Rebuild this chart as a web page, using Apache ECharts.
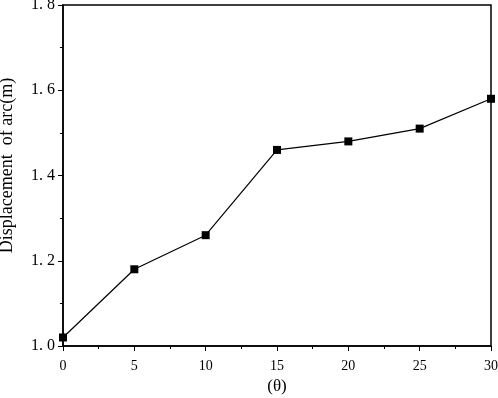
<!DOCTYPE html>
<html>
<head>
<meta charset="utf-8">
<script src="https://cdn.jsdelivr.net/npm/echarts@6/dist/echarts.min.js"></script>
<style>
  html, body { margin: 0; padding: 0; background: #fff; }
  #chart { width: 498px; height: 398px; }
</style>
</head>
<body>
<div id="chart"></div>
<script>
// 数据
const angles = [0, 5, 10, 15, 20, 25, 30]
const displacement = [1.02, 1.18, 1.26, 1.46, 1.48, 1.51, 1.58]

const myChart = echarts.init(document.getElementById('chart'))
const font = 'Liberation Serif, DejaVu Serif, serif'

const option = {
  backgroundColor: '#fff',
  animation: false,
  grid: {
    left: 63,
    right: 7,
    top: 5,
    bottom: 52,
    outerBoundsMode: 'none',
    containLabel: false,
    show: true,
    borderColor: '#000',
    borderWidth: 1.5,
  },
  xAxis: {
    type: 'value',
    min: 0,
    max: 30,
    interval: 5,
    name: '(θ)',
    nameLocation: 'middle',
    nameGap: 29,
    nameTextStyle: { fontFamily: font, fontSize: 17, color: '#000' },
    axisLine: { lineStyle: { color: '#000', width: 1.5 } },
    axisTick: { inside: false, length: 5, lineStyle: { color: '#000' } },
    minorTick: { show: true, splitNumber: 2, length: 3, lineStyle: { color: '#000' } },
    axisLabel: { fontFamily: font, fontSize: 14, color: '#000', margin: 13 },
    splitLine: { show: false },
  },
  yAxis: {
    type: 'value',
    min: 1.0,
    max: 1.8,
    interval: 0.2,
    name: 'Displacement  of arc(m)',
    nameLocation: 'middle',
    nameGap: 47,
    nameTextStyle: { fontFamily: font, fontSize: 18, color: '#000', padding: [0, 0, 0, 20] },
    axisLine: { lineStyle: { color: '#000', width: 1.5 } },
    axisTick: { inside: false, length: 5, lineStyle: { color: '#000' } },
    minorTick: { show: true, splitNumber: 2, length: 3, lineStyle: { color: '#000' } },
    axisLabel: {
      fontFamily: font,
      fontSize: 16,
      color: '#000',
      margin: 8,
      formatter: (v) => v.toFixed(1).replace('.', '. '),
    },
    splitLine: { show: false },
  },
  series: [
    {
      type: 'line',
      data: angles.map((a, i) => [a, displacement[i]]),
      symbol: 'rect',
      symbolSize: 8,
      itemStyle: { color: '#000' },
      lineStyle: { color: '#000', width: 1.2 },
      clip: false,
    },
  ],
}

myChart.setOption(option)
</script>
</body>
</html>
